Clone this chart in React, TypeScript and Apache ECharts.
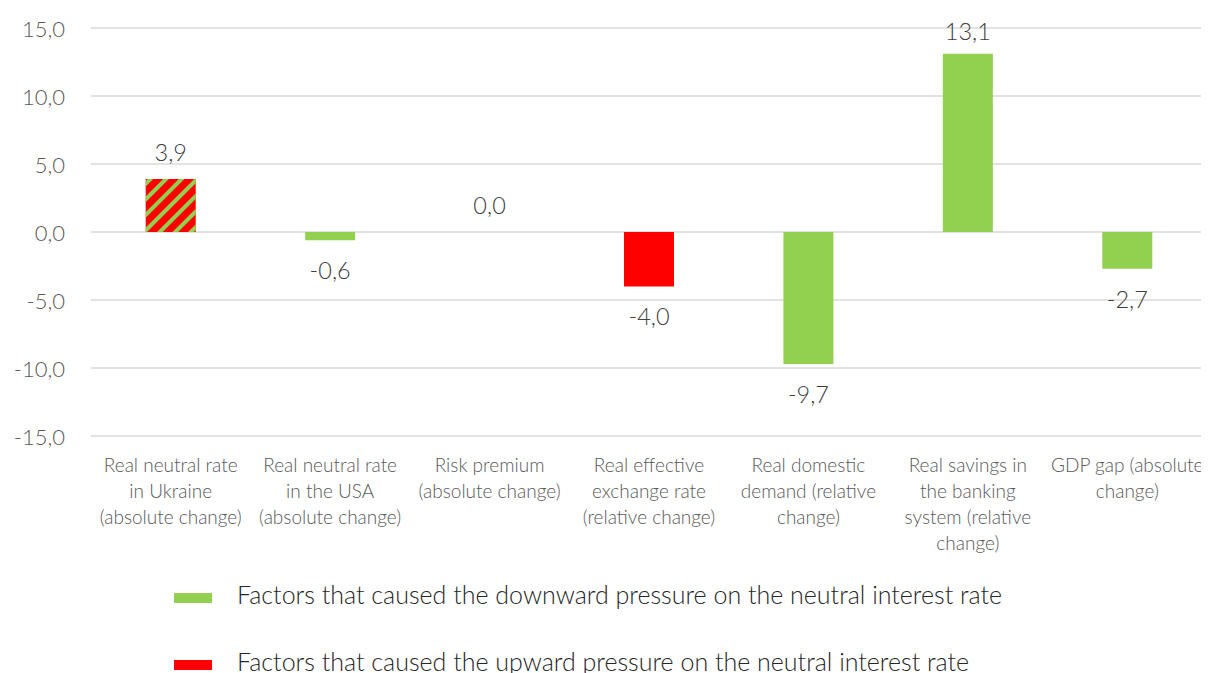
import React, { useEffect, useRef } from "react";
import * as echarts from "echarts";

const categories = [
  "Real neutral rate\nin Ukraine\n(absolute change)",
  "Real neutral rate\nin the USA\n(absolute change)",
  "Risk premium\n(absolute change)",
  "Real effective\nexchange rate\n(relative change)",
  "Real domestic\ndemand (relative\nchange)",
  "Real savings in\nthe banking\nsystem (relative\nchange)",
  "GDP gap (absolute\nchange)",
];
const values = [3.9, -0.6, 0.0, -4.0, -9.7, 13.1, -2.7];
// "down" = green, "up" = red, "both" = red hatched with green
const kinds = ["both", "down", "down", "up", "down", "down", "down"];
const seriesNames = [
  "Factors that caused the downward pressure on the neutral interest rate",
  "Factors that caused the upward pressure on the neutral interest rate",
];

const GREEN = "#92D050";
const RED = "#FF0000";
const FONT = "Lato, 'Open Sans', sans-serif";
const H = 700;
const LEGEND_ICON = "path://M0,0L38,0L38,0.01L0,0.01Z M0,9L38,9L38,19L0,19Z";

export default function App() {
  const ref = useRef<HTMLDivElement>(null);
  useEffect(() => {
    if (!ref.current) return;
    const chart = echarts.init(ref.current, undefined, { renderer: "svg" });
    const fmt = (p: any) => (p.value === null || p.value === undefined ? "" : Number(p.value).toFixed(1).replace(".", ","));
    const mk = (want: string[]) =>
      values.map((v, i) => {
        if (!want.includes(kinds[i])) return null;
        const item: any = {
          value: v,
          label:
            v >= 0
              ? { position: "top", distance: v > 12 ? 11 : 15 }
              : { position: "bottom", distance: 18 },
        };
        if (kinds[i] === "both") {
          item.itemStyle = {
            color: RED,
            decal: {
              symbol: "rect",
              symbolSize: 1,
              color: GREEN,
              dashArrayX: [1, 0],
              dashArrayY: [3.5, 6.5],
              rotation: -Math.PI / 4,
            },
          };
        }
        return item;
      });
    const labelCommon = {
      show: true,
      formatter: fmt,
      fontFamily: FONT,
      fontWeight: 300,
      fontSize: 23.5,
      color: "#404040",
    };
    const legendCommon = {
      orient: "horizontal",
      left: 169,
      itemWidth: 38,
      itemHeight: 19,
      icon: LEGEND_ICON,
      textStyle: { fontFamily: FONT, fontWeight: 300, fontSize: 25, color: "#262626", padding: [0, 0, 0, 20] },
    };
    chart.setOption({
      animation: false,
      grid: { left: 91, right: 2, top: 28, bottom: H - 436, containLabel: false },
      legend: [
        { ...legendCommon, top: 576, data: [seriesNames[0]] },
        { ...legendCommon, top: 643, data: [seriesNames[1]] },
      ],
      xAxis: {
        type: "category",
        data: categories,
        axisLine: { show: false, onZero: false },
        axisTick: { show: false },
        axisLabel: {
          interval: 0,
          margin: 15,
          fontFamily: FONT,
          fontWeight: 300,
          fontSize: 19,
          color: "#595959",
          lineHeight: 26,
        },
      },
      yAxis: {
        type: "value",
        min: -15,
        max: 15,
        interval: 5,
        axisLine: { show: false },
        axisTick: { show: false },
        splitLine: { lineStyle: { color: "#D9D9D9", width: 1.5 } },
        axisLabel: {
          margin: 26,
          fontFamily: FONT,
          fontWeight: 300,
          fontSize: 22,
          color: "#595959",
          formatter: (v: number) => v.toFixed(1).replace(".", ","),
        },
      },
      series: [
        {
          name: seriesNames[0],
          type: "bar",
          barWidth: 50,
          barGap: "-100%",
          itemStyle: { color: GREEN },
          label: labelCommon,
          data: mk(["down"]),
        },
        {
          name: seriesNames[1],
          type: "bar",
          barWidth: 50,
          barGap: "-100%",
          itemStyle: { color: RED },
          label: labelCommon,
          data: mk(["up", "both"]),
        },
      ],
    });
    return () => chart.dispose();
  }, []);
  return (
    <div style={{ width: 1209, height: 681, margin: -8, overflow: "hidden" }}>
      <div ref={ref} style={{ width: 1209, height: H }} />
    </div>
  );
}
